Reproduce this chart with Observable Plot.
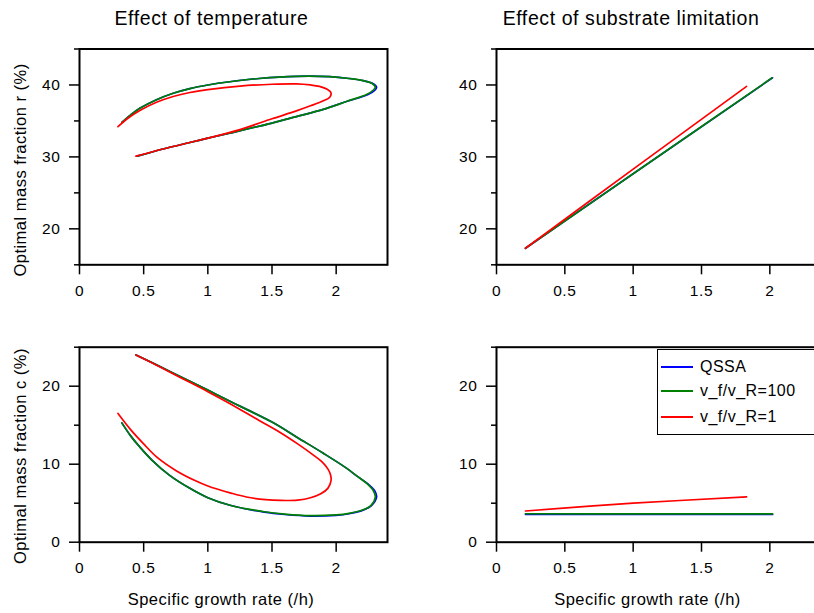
<!DOCTYPE html>
<html><head><meta charset="utf-8">
<script src="https://cdn.jsdelivr.net/npm/d3@7"></script>
<script src="https://cdn.jsdelivr.net/npm/@observablehq/plot@0.6"></script>
<style>
html,body{margin:0;padding:0;overflow:hidden;background:#fff;}
#fig{position:relative;width:814px;height:613px;overflow:hidden;font-family:"Liberation Sans",Arial,Helvetica,sans-serif;color:#000;background:#fff;}
.panel{position:absolute;}
.lbl{position:absolute;white-space:nowrap;line-height:1;color:#000;}
</style></head><body><div id="fig"></div>
<script>
// ---------- data ----------
const seriesNames = ["QSSA", "v_f/v_R=100", "v_f/v_R=1"];
const seriesColors = ["#0000ff", "#008000", "#ff0000"];
const xTicks = [0, 0.5, 1, 1.5, 2];

// Effect of temperature: mass fraction r (%)
const tempMuQ_r = [0.33,0.40,0.47,0.60,0.73,0.86,1.00,1.17,1.40,1.69,1.95,2.10,2.21,2.285,2.315,2.30,2.245,2.08,1.90,1.69,1.50,1.17,1.00,0.86,0.65,0.45];
const tempR_Q   = [34.8,35.85,36.75,37.95,38.85,39.5,40.0,40.45,40.9,41.2,41.15,40.9,40.6,40.2,39.7,39.25,38.65,37.7,36.6,35.6,34.7,33.3,32.6,32.0,31.1,30.1];
const tempMuG_r = [0.33,0.40,0.47,0.60,0.73,0.86,1.00,1.17,1.40,1.69,1.95,2.10,2.21,2.28,2.305,2.29,2.24,2.08,1.90,1.69,1.50,1.17,1.00,0.86,0.65,0.45];
const tempR_G   = [34.8,35.85,36.75,37.95,38.85,39.5,40.0,40.45,40.9,41.2,41.15,40.9,40.6,40.2,39.7,39.3,38.7,37.7,36.6,35.6,34.7,33.3,32.6,32.0,31.1,30.1];
const tempMuR_r = [0.30,0.38,0.47,0.60,0.73,0.86,1.00,1.25,1.50,1.69,1.80,1.87,1.93,1.96,1.95,1.90,1.80,1.69,1.50,1.25,1.00,0.86,0.65,0.44];
const tempR_R   = [34.2,35.4,36.45,37.6,38.4,38.95,39.35,39.85,40.1,40.15,40.0,39.8,39.4,38.9,38.3,37.8,37.1,36.4,35.3,33.8,32.6,32.0,31.1,30.1];

// Effect of temperature: mass fraction c (%)
const tempMuQ_c = [0.33,0.40,0.47,0.56,0.70,0.85,1.00,1.18,1.44,1.60,1.80,2.00,2.10,2.20,2.275,2.315,2.30,2.245,2.16,2.08,1.90,1.70,1.50,1.18,1.00,0.80,0.58,0.44];
const tempC_Q   = [15.3,13.6,12.2,10.6,8.6,7.0,5.7,4.7,3.85,3.55,3.35,3.45,3.65,4.05,4.7,5.8,6.6,7.5,8.5,9.5,11.4,13.4,15.4,18.0,19.5,21.1,22.9,24.0];
const tempMuG_c = [0.33,0.40,0.47,0.56,0.70,0.85,1.00,1.18,1.44,1.60,1.80,2.00,2.10,2.20,2.27,2.305,2.29,2.24,2.16,2.08,1.90,1.70,1.50,1.18,1.00,0.80,0.58,0.44];
const tempC_G   = [15.3,13.6,12.2,10.6,8.6,7.0,5.7,4.7,3.9,3.6,3.4,3.5,3.7,4.1,4.7,5.8,6.6,7.5,8.5,9.5,11.4,13.4,15.4,18.0,19.5,21.1,22.9,24.0];
const tempMuR_c = [0.30,0.40,0.50,0.61,0.75,0.90,1.00,1.18,1.30,1.45,1.57,1.70,1.80,1.88,1.935,1.96,1.955,1.935,1.89,1.82,1.70,1.57,1.40,1.18,1.00,0.80,0.60,0.44];
const tempC_R   = [16.5,14.4,12.6,10.8,9.2,7.9,7.2,6.3,5.8,5.45,5.35,5.4,5.7,6.2,6.9,7.9,8.7,9.4,10.3,11.2,12.6,14.0,15.6,17.7,19.3,21.0,22.7,24.0];

// Effect of substrate limitation: r (%)
const subMuQ_r = [0.212, 1.0, 2.02];
const subR_Q   = [17.3, 27.65, 41.0];
const subMuG_r = [0.212, 1.0, 2.017];
const subR_G   = [17.3, 27.65, 41.0];
const subMuR_r = [0.212, 1.0, 1.83];
const subR_R   = [17.3, 28.3, 39.8];

// Effect of substrate limitation: c (%)
const subMuQ_c = [0.212, 1.0, 2.02];
const subC_Q   = [3.58, 3.57, 3.56];
const subMuG_c = [0.212, 1.0, 2.02];
const subC_G   = [3.65, 3.63, 3.62];
const subMuR_c = [0.212, 1.0, 1.83];
const subC_R   = [4.0, 5.0, 5.8];

const titles = ["Effect of temperature", "Effect of substrate limitation"];
const yLabels = ["Optimal mass fraction r (%)", "Optimal mass fraction c (%)"];
const xLabel = "Specific growth rate (/h)";

// ---------- drawing ----------
const fig = document.getElementById("fig");
const FONT = '"Liberation Sans", Arial, Helvetica, sans-serif';

function toRows(xs, ys, name) { return xs.map((x, i) => ({mu: x, v: ys[i], name})); }

function panel(cfg) {
  const marks = [];
  cfg.series.forEach((s, k) => {
    marks.push(Plot.line(toRows(s[0], s[1], seriesNames[k]), {
      x: "mu", y: "v", stroke: seriesColors[k], strokeWidth: 1.7, curve: "catmull-rom"
    }));
  });
  marks.push(Plot.axisX({ticks: xTicks, tickSize: 10, tickPadding: 10, tickFormat: d => String(d), strokeWidth: 1.5, label: null}));
  marks.push(Plot.axisY({ticks: cfg.yMajor, tickSize: 10, tickPadding: 9, tickFormat: d => String(d), strokeWidth: 1.5, label: null}));
  marks.push(Plot.axisY({ticks: cfg.yMinor, tickSize: 5, tickFormat: () => "", strokeWidth: 1.5, label: null}));
  marks.push(Plot.frame({stroke: "black", strokeWidth: 2}));
  const svg = Plot.plot({
    width: cfg.width, height: cfg.height,
    marginLeft: cfg.mL, marginRight: cfg.mR, marginTop: cfg.mT, marginBottom: cfg.mB,
    x: {domain: [0, 2.4], label: null},
    y: {domain: cfg.yDomain, label: null},
    style: {fontFamily: FONT, fontSize: "15.5px", letterSpacing: "0.04em", background: "transparent", color: "black", overflow: "visible", maxWidth: "none"},
    marks
  });
  svg.classList.add("panel");
  svg.style.left = cfg.left + "px";
  svg.style.top = cfg.top + "px";
  fig.appendChild(svg);
}

panel({left: 0, top: 0, width: 400, height: 300, mL: 79, mR: 13, mT: 48.5, mB: 35.7,
  yDomain: [15, 45], yMajor: [20, 30, 40], yMinor: [15, 25, 35, 45],
  series: [[tempMuQ_r, tempR_Q], [tempMuG_r, tempR_G], [tempMuR_r, tempR_R]]});
panel({left: 410, top: 0, width: 430, height: 300, mL: 86, mR: 16, mT: 48.5, mB: 35.7,
  yDomain: [15, 45], yMajor: [20, 30, 40], yMinor: [15, 25, 35, 45],
  series: [[subMuQ_r, subR_Q], [subMuG_r, subR_G], [subMuR_r, subR_R]]});
panel({left: 0, top: 300, width: 400, height: 280, mL: 79, mR: 13, mT: 46.7, mB: 38.3,
  yDomain: [0, 25], yMajor: [0, 10, 20], yMinor: [5, 15, 25],
  series: [[tempMuQ_c, tempC_Q], [tempMuG_c, tempC_G], [tempMuR_c, tempC_R]]});
panel({left: 410, top: 300, width: 430, height: 280, mL: 86, mR: 16, mT: 46.7, mB: 38.3,
  yDomain: [0, 25], yMajor: [0, 10, 20], yMinor: [5, 15, 25],
  series: [[subMuQ_c, subC_Q], [subMuG_c, subC_G], [subMuR_c, subC_R]]});

function label(text, opts) {
  const d = document.createElement("div");
  d.className = "lbl";
  d.textContent = text;
  d.style.fontSize = opts.size + "px";
  d.style.letterSpacing = opts.ls;
  d.style.left = opts.x + "px";
  d.style.top = opts.y + "px";
  d.style.transform = opts.transform;
  fig.appendChild(d);
  return d;
}
// titles (baseline ~25.7)
label(titles[0], {size: 19.5, ls: "0.03em", x: 211.5, y: 25.7 - 0.8465 * 19.5, transform: "translateX(-50%)"});
label(titles[1], {size: 19.5, ls: "0.03em", x: 631, y: 25.7 - 0.8465 * 19.5, transform: "translateX(-50%)"});
// y labels
label(yLabels[0], {size: 16.5, ls: "0.03em", x: 19.5, y: 170, transform: "translate(-50%,-50%) rotate(-90deg)"});
label(yLabels[1], {size: 16.5, ls: "0.03em", x: 19.5, y: 455.5, transform: "translate(-50%,-50%) rotate(-90deg)"});
// x labels (baseline ~605)
label(xLabel, {size: 16.5, ls: "0.03em", x: 221, y: 605 - 0.8465 * 16.5, transform: "translateX(-50%)"});
label(xLabel, {size: 16.5, ls: "0.03em", x: 647.5, y: 605 - 0.8465 * 16.5, transform: "translateX(-50%)"});

// legend
const box = document.createElement("div");
Object.assign(box.style, {position: "absolute", left: "656.5px", top: "348.5px", width: "200px", height: "84px",
  border: "1.5px solid #000", background: "#fff"});
fig.appendChild(box);
const rowY = [366.7, 391, 416.7];
seriesNames.forEach((name, k) => {
  const ln = document.createElement("div");
  Object.assign(ln.style, {position: "absolute", left: "661px", top: (rowY[k] - 0.85) + "px", width: "32px", height: "1.7px", background: seriesColors[k]});
  fig.appendChild(ln);
  const fs = 16;
  label(name, {size: fs, ls: "0.03em", x: 700, y: rowY[k] + 0.36 * fs - 0.8465 * fs, transform: "none"});
});
</script></body></html>
